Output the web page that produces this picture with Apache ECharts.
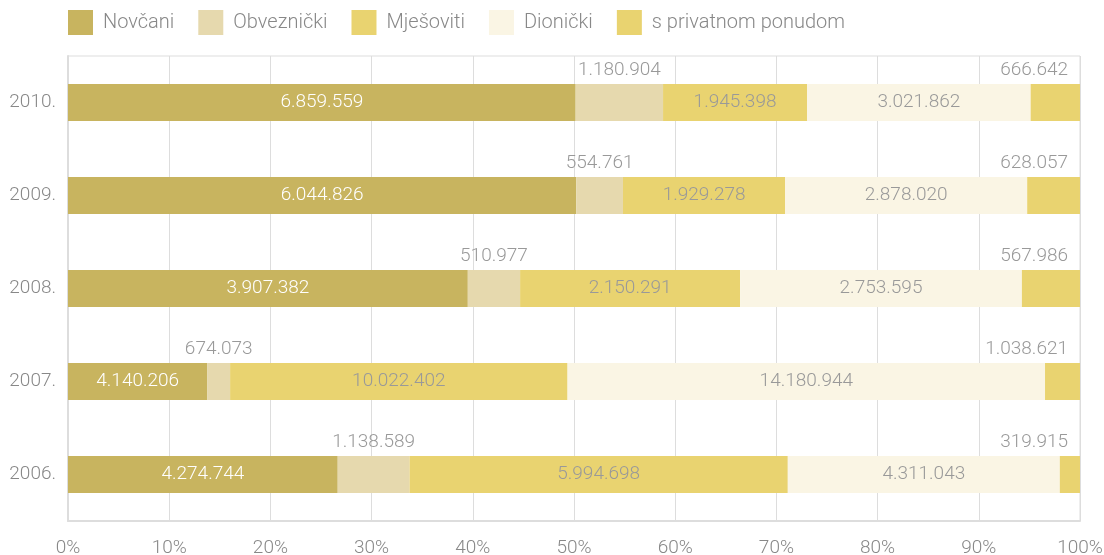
<!DOCTYPE html>
<html>
<head>
<meta charset="utf-8">
<script src="https://cdn.jsdelivr.net/npm/echarts@6/dist/echarts.min.js"></script>
<style>
html,body{margin:0;padding:0;background:#fff;}
#chart{width:1104px;height:555px;}
</style>
</head>
<body>
<div id="chart"></div>
<script>
const years = ['2006.', '2007.', '2008.', '2009.', '2010.'];
const seriesNames = ['Novčani', 'Obveznički', 'Mješoviti', 'Dionički', 's privatnom ponudom'];
const novcani = [4274744, 4140206, 3907382, 6044826, 6859559];
const obveznicki = [1138589, 674073, 510977, 554761, 1180904];
const mjesoviti = [5994698, 10022402, 2150291, 1929278, 1945398];
const dionicki = [4311043, 14180944, 2753595, 2878020, 3021862];
const privatnom = [319915, 1038621, 567986, 628057, 666642];
const xTicks = [0, 10, 20, 30, 40, 50, 60, 70, 80, 90, 100];
const colors = ['#c8b45f', '#e6d9ae', '#e9d370', '#faf5e4', '#e9d370'];

const raw = [novcani, obveznicki, mjesoviti, dionicki, privatnom];
const totals = years.map((_, i) => raw.reduce((s, arr) => s + arr[i], 0));
const fmt = v => String(v).replace(/\B(?=(\d{3})+(?!\d))/g, '.');
const FONT = 'Roboto';

const labelStyles = [
  { show: true, position: 'inside', color: '#ffffff' },
  { show: true, position: 'top', distance: 4, color: '#999999' },
  { show: true, position: 'inside', color: '#999999' },
  { show: true, position: 'inside', color: '#999999' },
  { show: true, position: ['100%', 0], align: 'right', verticalAlign: 'bottom', offset: [-12, -4], color: '#999999' }
];

const series = seriesNames.map((name, s) => ({
  name: name,
  type: 'bar',
  stack: 'total',
  barWidth: 37,
  itemStyle: { color: colors[s] },
  label: Object.assign({
    fontFamily: FONT, fontSize: 19, fontWeight: 300,
    formatter: p => fmt(raw[s][p.dataIndex])
  }, labelStyles[s]),
  emphasis: { disabled: true },
  data: raw[s].map((v, i) => v / totals[i] * 100)
}));

const chart = echarts.init(document.getElementById('chart'), null, { renderer: 'canvas' });
chart.setOption({
  animation: false,
  backgroundColor: '#ffffff',
  textStyle: { fontFamily: FONT },
  legend: {
    left: 63, top: 5,
    itemWidth: 25, itemHeight: 25, itemGap: 24,
    icon: 'rect',
    textStyle: { fontFamily: FONT, fontSize: 20, fontWeight: 300, color: '#888888', padding: [0, 0, 0, 5] },
    data: seriesNames
  },
  grid: {
    left: 68, right: 24, top: 56, bottom: 34,
    outerBoundsMode: 'none',
    containLabel: false,
    show: true, borderColor: '#dddddd', borderWidth: 1
  },
  xAxis: {
    type: 'value', min: xTicks[0], max: xTicks[xTicks.length - 1], interval: 10,
    axisLine: { show: true, lineStyle: { color: '#dddddd', width: 2 } },
    axisTick: { show: false },
    splitLine: { show: true, lineStyle: { color: '#dddddd', width: 1 } },
    axisLabel: { formatter: '{value}%', color: '#888888', fontFamily: FONT, fontSize: 19, fontWeight: 300, margin: 18 }
  },
  yAxis: {
    type: 'category', data: years,
    axisLine: { show: true, lineStyle: { color: '#dddddd', width: 2 } },
    axisTick: { show: false },
    axisLabel: { color: '#888888', fontFamily: FONT, fontSize: 19, fontWeight: 300, margin: 12 }
  },
  series: series
});
</script>
</body>
</html>
